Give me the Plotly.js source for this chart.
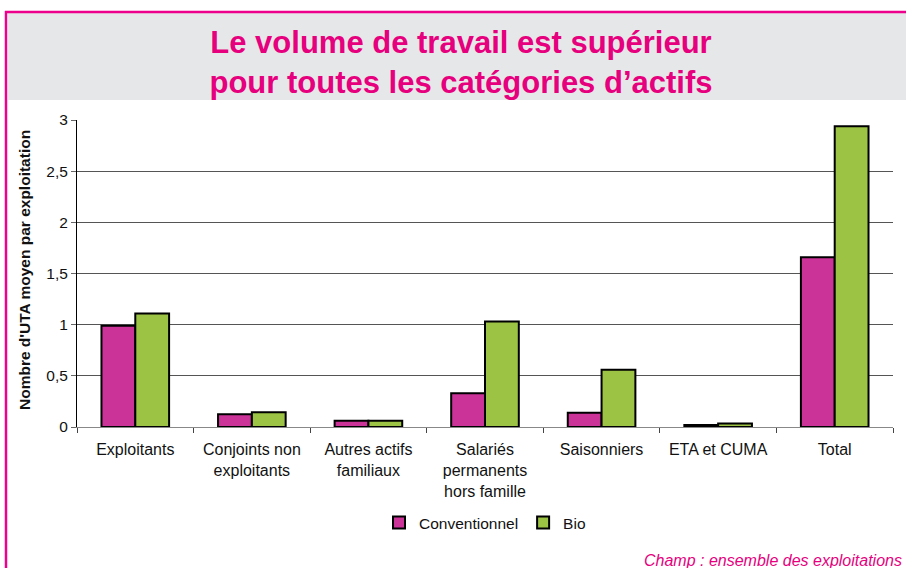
<!DOCTYPE html>
<html><head><meta charset="utf-8">
<script src="https://cdn.plot.ly/plotly-3.0.1.min.js"></script>
<style>html,body{margin:0;padding:0;background:#fff;}#chart{width:906px;height:568px;}</style>
</head><body><div id="chart"></div>
<script>
const categories = ["Exploitants", "Conjoints non<br>exploitants", "Autres actifs<br>familiaux", "Salariés<br>permanents<br>hors famille", "Saisonniers", "ETA et CUMA", "Total"];
const conventionnel = [0.99, 0.125, 0.06, 0.33, 0.14, 0.02, 1.66];
const bio = [1.11, 0.145, 0.06, 1.03, 0.56, 0.035, 2.94];
const yTicks = [0, 0.5, 1, 1.5, 2, 2.5, 3];
const yTickText = ["0", "0,5", "1", "1,5", "2", "2,5", "3"];

const L = 77, R = 13, T = 120, B = 141, W = 906, H = 568;
const pw = W - L - R, ph = H - T - B;
const px = x => (x - L) / pw;
const py = y => (H - B - y) / ph;

const font = "'Liberation Sans', Arial, sans-serif";
const traces = [
  {type: "bar", name: "Conventionnel", x: categories, y: conventionnel,
   marker: {color: "#CC3399", line: {color: "#000", width: 2}}},
  {type: "bar", name: "Bio", x: categories, y: bio,
   marker: {color: "#9DC344", line: {color: "#000", width: 2}}}
];
const layout = {
  width: W, height: H,
  margin: {l: L, r: R, t: T, b: B},
  paper_bgcolor: "#fff", plot_bgcolor: "#fff",
  font: {family: font, size: 15.5, color: "#111"},
  separators: ", ",
  barmode: "group", bargap: 0.42, bargroupgap: 0,
  showlegend: true,
  legend: {orientation: "h", x: 0.5, xanchor: "center", y: py(523), yanchor: "middle",
           font: {size: 15.5, color: "#111"}, itemwidth: 30, traceorder: "normal"},
  title: {text: "Le volume de travail est supérieur<br>pour toutes les catégories d’actifs",
          font: {family: font, size: 31, color: "#E6007E", weight: "bold"},
          xref: "container", x: 461 / W, xanchor: "center",
          yref: "container", y: 1 - 53 / H, yanchor: "middle"},
  xaxis: {type: "category", showline: true, linecolor: "#888", linewidth: 1,
          ticks: "outside", tickson: "boundaries", ticklen: 5, tickcolor: "#444",
          ticklabelstandoff: 8,
          tickfont: {size: 16, color: "#111"}, showgrid: false, fixedrange: true},
  yaxis: {range: [0, 3], tickvals: yTicks, ticktext: yTickText,
          showline: true, linecolor: "#000", linewidth: 1,
          ticks: "outside", ticklen: 5, tickcolor: "#666",
          showgrid: true, gridcolor: "#555", gridwidth: 1,
          zeroline: false, tickfont: {size: 15.5, color: "#111"}, fixedrange: true},
  shapes: [
    {type: "rect", xref: "paper", yref: "paper", x0: px(8), x1: px(906), y0: py(100), y1: py(13),
     fillcolor: "#E6E7E9", line: {width: 0}, layer: "below"},
    {type: "line", xref: "paper", yref: "paper", x0: px(5), x1: px(906), y0: py(12), y1: py(12),
     line: {color: "#EC008C", width: 2.5}},
    {type: "line", xref: "paper", yref: "paper", x0: px(6), x1: px(6), y0: py(11), y1: py(570),
     line: {color: "#EC008C", width: 2.5}}
  ],
  annotations: [
    {text: "Nombre d'UTA moyen par exploitation", textangle: -90, xref: "paper", yref: "paper",
     x: px(24), y: py(270), xanchor: "center", yanchor: "middle", showarrow: false,
     font: {size: 15.5, color: "#111", weight: "bold"}},
    {text: "<i>Champ : ensemble des exploitations</i>", xref: "paper", yref: "paper",
     x: px(904), y: py(560), xanchor: "right", yanchor: "middle", showarrow: false,
     font: {size: 16, color: "#E6007E"}}
  ]
};
Plotly.newPlot("chart", traces, layout, {displayModeBar: false, staticPlot: true});
</script></body></html>
